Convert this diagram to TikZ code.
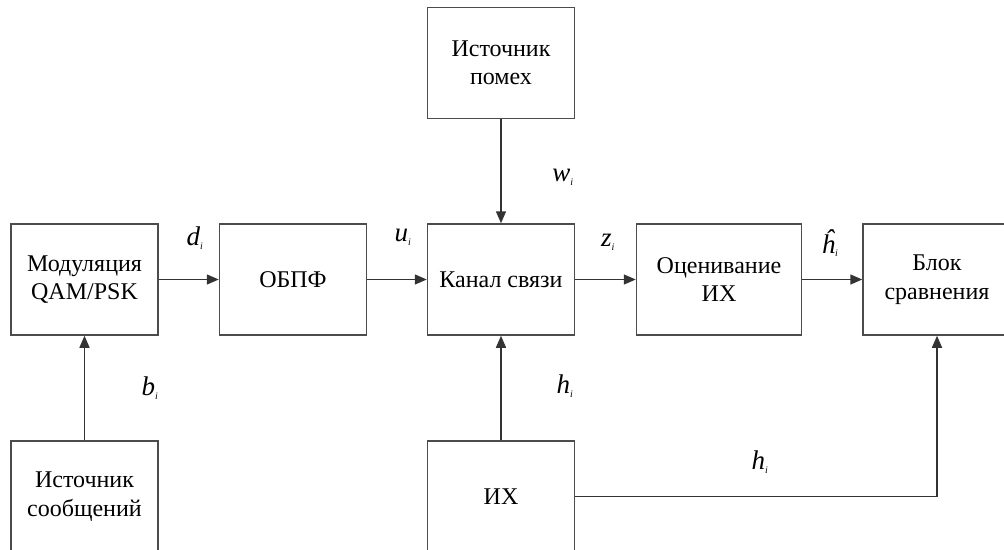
\documentclass[tikz,border=0pt]{standalone}
\usepackage{fontspec}
\setmainfont{Liberation Serif}
\usetikzlibrary{arrows.meta}

\tikzset{
  unit/.style={draw=black!70, line width=1.5pt, minimum width=147pt, minimum height=111pt,
    inner sep=0pt, align=center, font=\fontsize{24}{28.5}\selectfont},
  sig/.style={draw=black!80, line width=1.5pt, -{Triangle[length=12pt,width=10pt]}},
  lab/.style={inner sep=0pt, font=\fontsize{27}{27}\selectfont\itshape}
}
\newcommand{\sgn}[2]{#1\textsubscript{\fontsize{10}{10}\selectfont #2}}

\begin{document}
\begin{tikzpicture}[x=1pt, y=-1pt]
  \useasboundingbox (0,0) rectangle (1004,549);
  \clip (0,0) rectangle (1004,549);
  % blocks
  \node[unit] (pomeh) at (501,63) {Источник\\помех};
  \node[unit] (mod) at (84.5,279.5) {Модуляция\\QAM/PSK};
  \node[unit] (obpf) at (293,279.5) {ОБПФ};
  \node[unit] (kanal) at (501,279.5) {Канал связи};
  \node[unit, minimum width=165pt] (ocen) at (719,279.5) {Оценивание\\ИХ};
  \node[unit, minimum width=148pt] (blok) at (937,279.5) {Блок\\сравнения};
  \node[unit] (soob) at (84.5,496.5) {Источник\\сообщений};
  \node[unit] (ih) at (501,496.5) {ИХ};
  % signals
  \draw[sig] (mod) -- (obpf);
  \draw[sig] (obpf) -- (kanal);
  \draw[sig] (kanal) -- (ocen);
  \draw[sig] (ocen) -- (blok);
  \draw[sig] (pomeh) -- (kanal);
  \draw[sig] (soob) -- (mod);
  \draw[sig] (ih) -- (kanal);
  \draw[sig] (ih.east) -| (blok.south);
  % labels
  \node[lab] (ld) at (195,238) {\sgn{d}{i}};
  \node[lab] (lu) at (403,237) {\sgn{u}{i}};
  \node[lab] (lz) at (608,242) {\sgn{z}{i}};
  \node[lab] (lhh) at (830,243) {\sgn{ĥ}{i}};
  \node[lab] (lw) at (563,177) {\sgn{w}{i}};
  \node[lab] (lb) at (150,388) {\sgn{b}{i}};
  \node[lab] (lh) at (565,386) {\sgn{h}{i}};
  \node[lab] (lh2) at (760,462) {\sgn{h}{i}};
\end{tikzpicture}
\end{document}
